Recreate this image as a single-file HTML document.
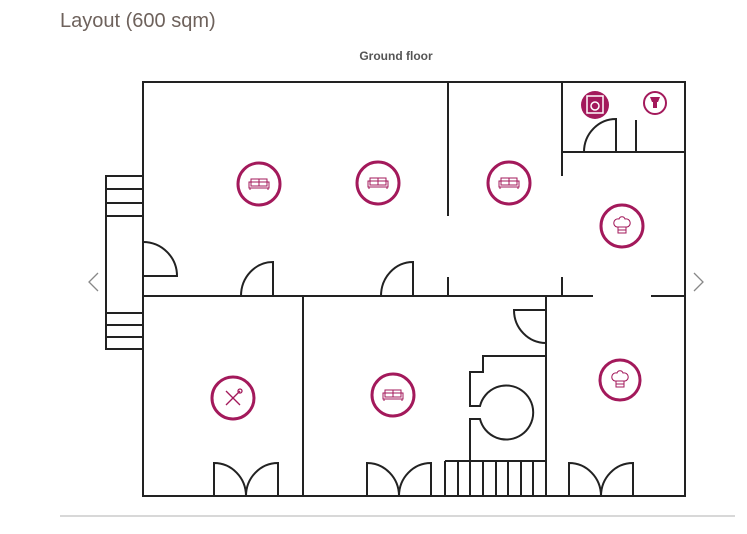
<!DOCTYPE html>
<html><head><meta charset="utf-8"><style>
body{margin:0;background:#fff;width:747px;height:529px;overflow:hidden;font-family:"Liberation Sans",Arial,sans-serif}
</style></head><body>
<svg width="747" height="529" viewBox="0 0 747 529" xmlns="http://www.w3.org/2000/svg">
<defs>
<g id="sofa" fill="none" stroke="#a3195b" stroke-width="1">
<rect x="-8" y="-5" width="16" height="7"/><rect x="-10" y="-2" width="20" height="6"/><line x1="0" y1="-5" x2="0" y2="2"/><line x1="-9" y1="4" x2="-9" y2="6"/><line x1="9" y1="4" x2="9" y2="6"/>
</g>
<g id="chef" fill="none" stroke="#a3195b" stroke-width="1">
<path d="M-5 1 C-10 0 -9 -8 -3 -7 C-2 -10 2 -10 3 -7 C9 -8 10 0 5 1 Z"/><rect x="-4" y="1" width="8" height="6"/><line x1="-4" y1="4" x2="4" y2="4"/>
</g>
</defs>
<text x="60" y="27" font-size="20" fill="#6e625c">Layout (600 sqm)</text>
<text x="396" y="60" font-size="12" font-weight="bold" fill="#555" text-anchor="middle">Ground floor</text>
<g fill="none" stroke="#888" stroke-width="1.3"><polyline points="98,273 89,282 98,291"/><polyline points="694,273 703,282 694,291"/></g>
<line x1="60" y1="516" x2="735" y2="516" stroke="#ccc" stroke-width="1.5"/>
<g fill="none" stroke="#222" stroke-width="2">
<rect x="143" y="82" width="542" height="414"/>
<line x1="143" y1="296" x2="593" y2="296"/><line x1="651" y1="296" x2="685" y2="296"/>
<line x1="448" y1="82" x2="448" y2="216"/><line x1="448" y1="277" x2="448" y2="296"/>
<line x1="562" y1="82" x2="562" y2="176"/><line x1="562" y1="277" x2="562" y2="296"/>
<line x1="562" y1="152" x2="685" y2="152"/><line x1="636" y1="120" x2="636" y2="152"/>
<path d="M616 152 V119 A32 33 0 0 0 584 152"/>
<line x1="303" y1="296" x2="303" y2="496"/><line x1="546" y1="296" x2="546" y2="496"/>
<path d="M546 310 H514 A32 33 0 0 0 546 343"/>
<path d="M143 242 A34 34 0 0 1 177 276 H143"/>
<path d="M273 296 V262 A32 34 0 0 0 241 296"/>
<path d="M413 296 V262 A32 34 0 0 0 381 296"/>
<path d="M214 496 V463 A32 33 0 0 1 246 496 A32 33 0 0 1 278 463 V496"/>
<path d="M367 496 V463 A32 33 0 0 1 399 496 A32 33 0 0 1 431 463 V496"/>
<path d="M569 496 V463 A32 33 0 0 1 601 496 A32 33 0 0 1 633 463 V496"/>
<path d="M546 356 H483 V372 H470 V406 H480 A27 27 0 1 1 480 419 H470 V461"/>
<line x1="445" y1="461" x2="546" y2="461"/>
<path d="M445 461 V496 M458 461 V496 M470 461 V496 M483 461 V496 M496 461 V496 M508 461 V496 M521 461 V496 M533 461 V496"/>
<path d="M143 176 H106 V349 H143 M106 189 H143 M106 203 H143 M106 216 H143 M106 313 H143 M106 325 H143 M106 337 H143"/>
</g>
<g fill="#fff" stroke="#a3195b" stroke-width="3">
<circle cx="259" cy="184" r="21"/><circle cx="378" cy="183" r="21"/><circle cx="509" cy="183" r="21"/>
<circle cx="622" cy="226" r="21"/><circle cx="620" cy="380" r="20"/><circle cx="233" cy="398" r="21"/><circle cx="393" cy="395" r="21"/>
<circle cx="655" cy="103" r="11" stroke-width="2"/>
</g>
<circle cx="595" cy="105" r="14" fill="#a3195b"/>
<rect x="587" y="96" width="16" height="17" fill="none" stroke="#fff" stroke-width="1.5"/>
<circle cx="595" cy="106" r="4" fill="none" stroke="#fff" stroke-width="1.5"/>
<path d="M650 97 h10 l-2 5 h-6 z M653 102 h4 v6 h-4z" fill="#a3195b"/>
<use href="#sofa" x="259" y="184"/><use href="#sofa" x="378" y="183"/><use href="#sofa" x="509" y="183"/><use href="#sofa" x="393" y="395"/>
<use href="#chef" x="622" y="226"/><use href="#chef" x="620" y="380"/>
<g stroke="#a3195b" stroke-width="1.3" fill="none"><line x1="226" y1="391" x2="240" y2="405"/><line x1="240" y1="391" x2="226" y2="405"/><circle cx="240" cy="391" r="2"/></g>
</svg>
</body></html>
